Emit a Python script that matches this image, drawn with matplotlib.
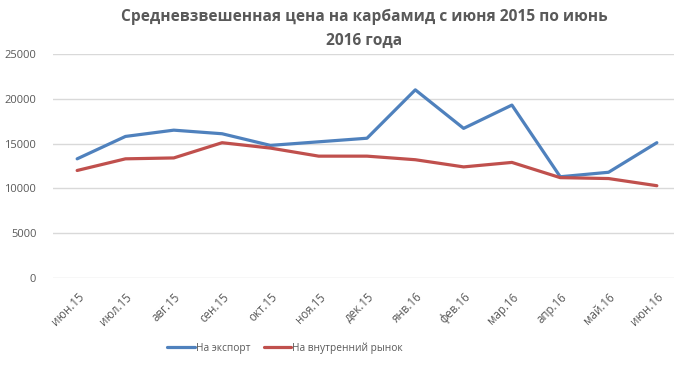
import matplotlib
matplotlib.use("Agg")
import matplotlib.pyplot as plt

months = ["июн.15", "июл.15", "авг.15", "сен.15", "окт.15", "ноя.15", "дек.15",
          "янв.16", "фев.16", "мар.16", "апр.16", "май.16", "июн.16"]
export = [13300, 15800, 16500, 16100, 14800, 15200, 15600,
          21000, 16700, 19300, 11300, 11800, 15100]
domestic = [12000, 13300, 13400, 15100, 14500, 13600, 13600,
            13200, 12400, 12900, 11200, 11100, 10300]

plt.rcParams["font.family"] = ["Open Sans", "DejaVu Sans"]
grey = "#595959"

fig = plt.figure(figsize=(6.74, 3.65), dpi=100)
ax = fig.add_axes([53 / 674, 87 / 365, 628 / 674, 224 / 365])

x = list(range(len(months)))
ax.plot(x, export, color="#4F81BD", lw=2.3, label="На экспорт", solid_capstyle="round")
ax.plot(x, domestic, color="#C0504D", lw=2.3, label="На внутренний рынок", solid_capstyle="round")

ax.set_xlim(-0.5, len(months) - 0.5)
ax.set_ylim(0, 25000)
ax.set_yticks(range(0, 25001, 5000))
ax.set_xticks(x)
ax.set_xticklabels(months, rotation=45, ha="right", rotation_mode="anchor")
ax.tick_params(axis="both", length=0, labelsize=8, colors=grey)
ax.tick_params(axis="x", labelsize=8.3, pad=9)
ax.tick_params(axis="y", pad=12)
ax.grid(axis="y", color="#D9D9D9", lw=1)
ax.set_axisbelow(True)
for s in ax.spines.values():
    s.set_visible(False)

fig.suptitle("Средневзвешенная цена на карбамид с июня 2015 по июнь\n2016 года",
             x=364 / 674, y=0.975, fontsize=11.2, fontweight="bold", color=grey,
             linespacing=1.65)

fig.legend(loc="center", bbox_to_anchor=(285 / 674, 1 - 348 / 365), ncol=2, frameon=False,
           fontsize=7.3, labelcolor=grey, handlelength=2.7, handletextpad=0.1,
           columnspacing=1.3)

fig.savefig("out.png", dpi=100)
